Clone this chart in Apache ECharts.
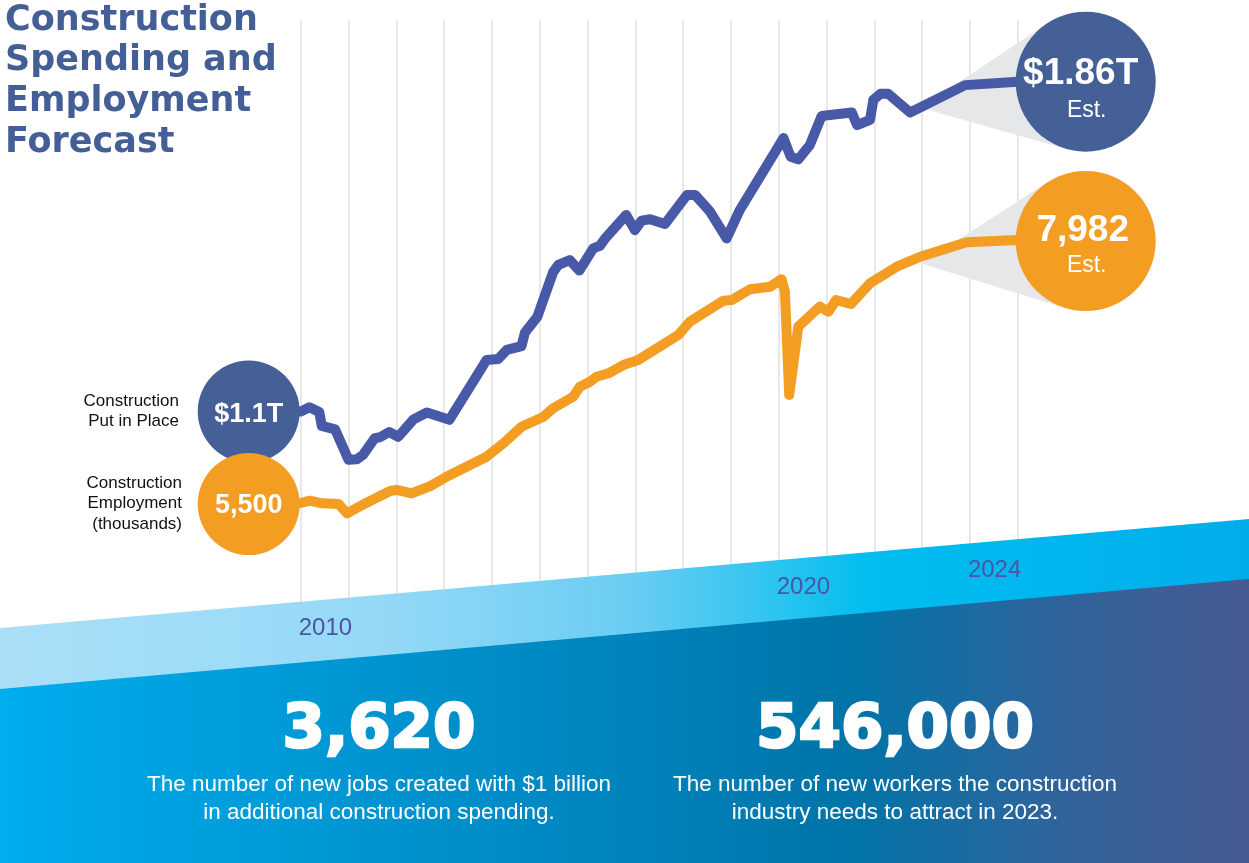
<!DOCTYPE html>
<html>
<head>
<meta charset="utf-8">
<script src="https://cdn.jsdelivr.net/npm/echarts@6.0.0/dist/echarts.min.js"></script>
<style>
  html, body { margin: 0; padding: 0; background: #fff; }
  #chart { width: 1249px; height: 863px; }
</style>
</head>
<body>
<div id="chart"></div>
<script>
// construction put in place, $ billions
var spendYears = [2010.00, 2010.18, 2010.39, 2010.44, 2010.72, 2011.00, 2011.17, 2011.30, 2011.55, 2011.66,
  2011.85, 2012.04, 2012.36, 2012.64, 2013.11, 2013.89, 2014.13, 2014.31, 2014.62, 2014.69,
  2014.95, 2015.28, 2015.39, 2015.63, 2015.83, 2016.12, 2016.26, 2016.37, 2016.81, 2016.99,
  2017.13, 2017.31, 2017.62, 2018.08, 2018.25, 2018.56, 2018.91, 2019.19, 2020.10, 2020.25,
  2020.41, 2020.65, 2020.90, 2021.07, 2021.53, 2021.64, 2021.91, 2021.98, 2022.13, 2022.29,
  2022.75, 2023.90, 2025.00];
var spendValues = [1100, 1110, 1099, 1067, 1059, 989, 990, 1000, 1039, 1041,
  1053, 1042, 1082, 1098, 1081, 1219, 1221, 1242, 1251, 1282,
  1318, 1421, 1438, 1449, 1425, 1476, 1482, 1499, 1553, 1518,
  1540, 1543, 1532, 1599, 1599, 1561, 1499, 1565, 1730, 1687,
  1681, 1714, 1781, 1783, 1789, 1760, 1772, 1818, 1832, 1832,
  1789, 1852, 1860];

// construction employment, thousands
var jobYears = [2010.00, 2010.19, 2010.44, 2010.79, 2010.97, 2011.38, 2011.87, 2012.01, 2012.32, 2012.71,
  2013.05, 2013.89, 2014.24, 2014.62, 2015.08, 2015.28, 2015.70, 2015.84, 2016.05, 2016.19,
  2016.44, 2016.75, 2017.06, 2017.90, 2018.14, 2018.84, 2019.02, 2019.40, 2019.82, 2020.06,
  2020.13, 2020.22, 2020.41, 2020.86, 2021.04, 2021.20, 2021.51, 2021.91, 2022.47, 2022.96,
  2023.93, 2025.00];
var jobValues = [5500, 5522, 5497, 5491, 5403, 5503, 5613, 5623, 5592, 5660,
  5748, 5937, 6063, 6220, 6314, 6394, 6503, 6598, 6645, 6692,
  6724, 6802, 6850, 7085, 7211, 7409, 7416, 7517, 7541, 7611,
  7494, 6520, 7164, 7353, 7305, 7416, 7378, 7573, 7730, 7824,
  7960, 7982];

var labelYears = [2010, 2020, 2024];
var startLabels = ['$1.1T', '5,500'];
var endLabels = ['$1.86T', '7,982'];
var seriesNames = ['Construction\nPut in Place', 'Construction\nEmployment\n(thousands)'];
var stats = ['3,620', '546,000'];
var statNotes = [
  'The number of new jobs created with $1 billion\nin additional construction spending.',
  'The number of new workers the construction\nindustry needs to attract in 2023.'
];

var BLUE = '#4859a8', NAVY = '#446096', ORANGE = '#f49d23', GREY = '#e6e7e8';

function pairs(xs, ys) {
  return xs.map(function (x, i) { return [x, ys[i]]; });
}

var dom = document.getElementById('chart');
var myChart = echarts.init(dom, null, { renderer: 'canvas' });

var option = {
  animation: false,
  grid: { left: 300.7, right: 231.3, top: 20, bottom: 243 },
  xAxis: {
    type: 'value', min: 2010, max: 2025, interval: 1,
    axisLine: { show: false }, axisTick: { show: false }, axisLabel: { show: false },
    splitLine: { show: true, lineStyle: { color: '#e0e0e0', width: 1.5 } }
  },
  yAxis: [
    { type: 'value', min: 620, max: 2002, show: false },
    { type: 'value', min: 4396, max: 10058, show: false }
  ],
  series: [
    {
      type: 'line', name: 'Construction Put in Place', yAxisIndex: 0,
      data: pairs(spendYears, spendValues), symbol: 'none', z: 3,
      lineStyle: { color: BLUE, width: 10, cap: 'round', join: 'round' }
    },
    {
      type: 'line', name: 'Construction Employment', yAxisIndex: 1,
      data: pairs(jobYears, jobValues), symbol: 'none', z: 3,
      lineStyle: { color: ORANGE, width: 10, cap: 'round', join: 'round' }
    }
  ]
};
myChart.setOption(option);

function px(seriesIndex, x, y) {
  return myChart.convertToPixel({ seriesIndex: seriesIndex }, [x, y]);
}

// grey callout from a point on the line to the tangents of the end circle
function wedge(apex, c, r) {
  var dx = apex[0] - c[0], dy = apex[1] - c[1];
  var d = Math.sqrt(dx * dx + dy * dy);
  var a = Math.atan2(dy, dx), t = Math.acos(r / d);
  var p1 = [c[0] + r * Math.cos(a - t), c[1] + r * Math.sin(a - t)];
  var p2 = [c[0] + r * Math.cos(a + t), c[1] + r * Math.sin(a + t)];
  return { type: 'polygon', z: 1, silent: true, shape: { points: [apex, p1, c, p2] }, style: { fill: GREY } };
}

function txt(x, y, s, font, fill, align, valign, lh, z, strokeW) {
  var st = {
    text: s, font: font, fill: fill,
    align: align, verticalAlign: valign, textAlign: align, textVerticalAlign: valign,
    lineHeight: lh
  };
  if (strokeW) { st.stroke = fill; st.lineWidth = strokeW; }
  return { type: 'text', z: z || 11, silent: true, x: x, y: y, style: st };
}

var graphics = [];
var lastS = spendYears.length - 1, lastJ = jobYears.length - 1;
var s0 = px(0, spendYears[0], spendValues[0]), s1 = px(0, spendYears[lastS], spendValues[lastS]);
var j0 = px(1, jobYears[0], jobValues[0]), j1 = px(1, jobYears[lastJ], jobValues[lastJ]);

var cS0 = [s0[0] - 52, s0[1]], cJ0 = [j0[0] - 52, j0[1] + 1];
var cS1 = [s1[0] + 68, s1[1]], cJ1 = [j1[0] + 68, j1[1] + 1];

graphics.push(wedge(px(0, 2022.97, 1800), cS1, 70));
graphics.push(wedge(px(1, 2022.98, 7760), cJ1, 70));

// bands
var lightTop = [628, 519], darkTop = [689, 579];
graphics.push({
  type: 'polygon', z: 5, silent: true,
  shape: { points: [[0, lightTop[0]], [1249, lightTop[1]], [1249, 863], [0, 863]] },
  style: {
    fill: new echarts.graphic.LinearGradient(0, 0, 1, 0, [
      { offset: 0, color: '#abdff8' }, { offset: 0.3, color: '#95d9f6' },
      { offset: 0.5, color: '#6ccdf3' }, { offset: 0.62, color: '#2ec4f0' },
      { offset: 0.7, color: '#00bdf0' }, { offset: 1, color: '#00adeb' }
    ])
  }
});
graphics.push({
  type: 'polygon', z: 6, silent: true,
  shape: { points: [[0, darkTop[0]], [1249, darkTop[1]], [1249, 863], [0, 863]] },
  style: {
    fill: new echarts.graphic.LinearGradient(0, 0, 1, 0, [
      { offset: 0, color: '#00adee' }, { offset: 0.45, color: '#0088c2' },
      { offset: 0.68, color: '#0074a8' }, { offset: 0.85, color: '#30649c' },
      { offset: 1, color: '#465a90' }
    ])
  }
});

// year labels sit just under the slanted band edge
labelYears.forEach(function (yr) {
  var x = myChart.convertToPixel({ xAxisIndex: 0 }, yr);
  var edge = lightTop[0] + (lightTop[1] - lightTop[0]) * x / 1249;
  graphics.push(txt(x - 2, edge + 27, String(yr), '24px "Liberation Sans", Arial, sans-serif', '#4b55a4', 'left', 'middle', 24, 12));
});

// circles
graphics.push({ type: 'circle', z: 10, silent: true, shape: { cx: cS0[0], cy: cS0[1], r: 51 }, style: { fill: NAVY } });
graphics.push({ type: 'circle', z: 10, silent: true, shape: { cx: cJ0[0], cy: cJ0[1], r: 51 }, style: { fill: ORANGE } });
graphics.push({ type: 'circle', z: 10, silent: true, shape: { cx: cS1[0], cy: cS1[1], r: 70 }, style: { fill: NAVY } });
graphics.push({ type: 'circle', z: 10, silent: true, shape: { cx: cJ1[0], cy: cJ1[1], r: 70 }, style: { fill: ORANGE } });

var boldF = 'bold 27px "Liberation Sans", Arial, sans-serif';
graphics.push(txt(cS0[0], cS0[1] + 3, startLabels[0], boldF, '#fff', 'center', 'middle', 27));
graphics.push(txt(cJ0[0], cJ0[1] + 2, startLabels[1], boldF, '#fff', 'center', 'middle', 27));
graphics.push(txt(cS1[0] - 5, cS1[1] - 8, endLabels[0], 'bold 37px "Liberation Sans", Arial, sans-serif', '#fff', 'center', 'middle', 37));
graphics.push(txt(cS1[0] + 1, cS1[1] + 29, 'Est.', '23px "Liberation Sans", Arial, sans-serif', '#fff', 'center', 'middle', 23));
graphics.push(txt(cJ1[0] - 3, cJ1[1] - 10, endLabels[1], 'bold 37px "Liberation Sans", Arial, sans-serif', '#fff', 'center', 'middle', 37));
graphics.push(txt(cJ1[0] + 1, cJ1[1] + 25, 'Est.', '23px "Liberation Sans", Arial, sans-serif', '#fff', 'center', 'middle', 23));

// series names to the left of the start circles
var nameF = '17px "Liberation Sans", Arial, sans-serif';
graphics.push(txt(179, 411.5, seriesNames[0], nameF, '#111', 'right', 'middle', 20));
graphics.push(txt(182, 503.5, seriesNames[1], nameF, '#111', 'right', 'middle', 20.5));

// title
graphics.push(txt(5, 0.5, 'Construction\nSpending and\nEmployment\nForecast',
  'bold 35px "DejaVu Sans", sans-serif', '#435f96', 'left', 'top', 40.6, 11));

// bottom stats
var statX = [379, 895];
stats.forEach(function (s, i) {
  graphics.push(txt(statX[i], 731, s, 'bold 61px "DejaVu Sans", sans-serif', '#fff', 'center', 'middle', 61, 12, 2.5));
  graphics.push(txt(statX[i], 771.5, statNotes[i], '22.5px "Liberation Sans", Arial, sans-serif', '#fff', 'center', 'top', 27.5, 12));
});

myChart.setOption({ graphic: { elements: graphics } });

window.addEventListener('resize', myChart.resize);
</script>
</body>
</html>
